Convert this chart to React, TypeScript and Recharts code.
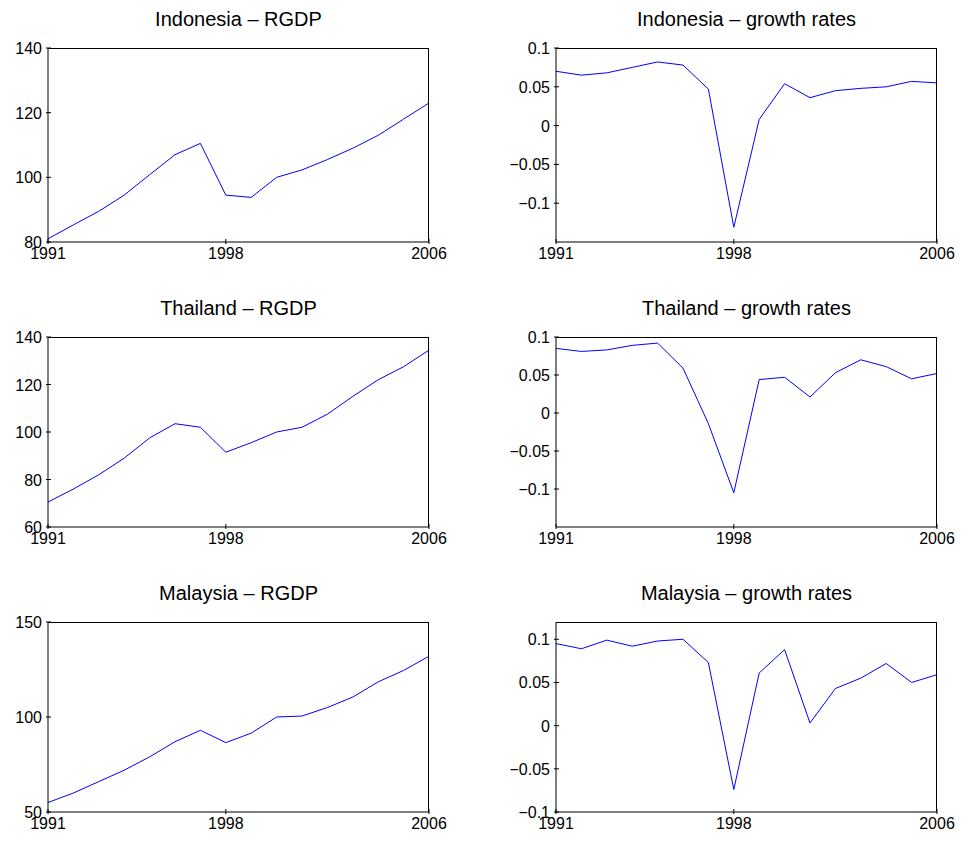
import React from 'react';
import { LineChart, Line, XAxis, YAxis } from 'recharts';

const years = [1991, 1992, 1993, 1994, 1995, 1996, 1997, 1998, 1999, 2000, 2001, 2002, 2003, 2004, 2005, 2006];
const yearTicks = [1991, 1998, 2006];

const indoRgdp = [81, 85.3, 89.5, 94.5, 100.8, 107, 110.5, 94.5, 93.8, 100, 102.3, 105.5, 109, 113, 118, 123];
const indoGrowth = [0.07, 0.065, 0.068, 0.075, 0.082, 0.078, 0.047, -0.131, 0.008, 0.054, 0.036, 0.045, 0.048, 0.05, 0.057, 0.055];
const thaiRgdp = [70.5, 76, 82, 89, 97.5, 103.5, 102, 91.5, 95.5, 100, 102, 107.5, 115, 122, 127.5, 134.5];
const thaiGrowth = [0.085, 0.081, 0.083, 0.089, 0.092, 0.059, -0.014, -0.105, 0.044, 0.047, 0.021, 0.053, 0.07, 0.061, 0.045, 0.052];
const malayRgdp = [55, 60, 66, 72, 79, 87, 93, 86.5, 91.5, 100, 100.5, 105, 110.5, 118.5, 124.5, 132];
const malayGrowth = [0.095, 0.089, 0.099, 0.092, 0.098, 0.1, 0.073, -0.074, 0.061, 0.088, 0.003, 0.043, 0.055, 0.072, 0.05, 0.059];

const font = 'Arial, "Liberation Sans", sans-serif';

const XTick = (props: any) => {
  const { x, y, payload } = props;
  return (
    <g>
      <line x1={x} y1={y} x2={x} y2={y - 5} stroke="#000" />
      <text x={x} y={y + 15} textAnchor="middle" fontSize={16} fontFamily={font} fill="#000">{payload.value}</text>
    </g>
  );
};

const YTick = (props: any) => {
  const { x, y, payload } = props;
  const label = String(payload.value).replace('-', '\u2212');
  return (
    <g>
      <line x1={x} y1={y} x2={x + 5} y2={y} stroke="#000" />
      <text x={x - 4} y={y + 6} textAnchor="end" fontSize={16} fontFamily={font} fill="#000">{label}</text>
    </g>
  );
};

interface PanelProps {
  title: string;
  values: number[];
  domain: [number, number];
  ticks: number[];
  left: number;
  top: number;
  plotHeight: number;
  axisWidth: number;
}

const Panel: React.FC<PanelProps> = ({ title, values, domain, ticks, left, top, plotHeight, axisWidth }) => {
  const data = years.map((year, i) => ({ year, v: values[i] }));
  const plotWidth = 381;
  const width = axisWidth + plotWidth + 21;
  const height = 48 + plotHeight + 38;
  return (
    <div style={{ position: 'absolute', left, top, width, height }}>
      <div style={{ position: 'absolute', left: axisWidth, width: plotWidth, top: 8, textAlign: 'center', fontFamily: font, fontSize: 20 }}>
        {title}
      </div>
      <LineChart width={width} height={height} data={data} margin={{ top: 48, right: 21, bottom: 8, left: 0 }}>
        <XAxis dataKey="year" type="number" domain={[1991, 2006]} ticks={yearTicks} tick={<XTick />} tickLine={false} tickSize={0} height={30} axisLine={{ stroke: '#000' }} />
        <YAxis type="number" domain={domain} ticks={ticks} tick={<YTick />} tickLine={false} tickSize={0} width={axisWidth} axisLine={{ stroke: '#000' }} allowDataOverflow />
        <Line dataKey="v" stroke="#0000ff" strokeWidth={1} dot={false} isAnimationActive={false} />
      </LineChart>
      <div style={{ position: 'absolute', left: axisWidth, top: 48, width: plotWidth, height: plotHeight, borderTop: '1px solid #000', borderRight: '1px solid #000', boxSizing: 'border-box', pointerEvents: 'none' }} />
    </div>
  );
};

const growthTicks = [-0.1, -0.05, 0, 0.05, 0.1];

export default function App() {
  return (
    <div style={{ position: 'absolute', left: 0, top: 0, width: 961, height: 848, background: '#fff' }}>
      <Panel title="Indonesia – RGDP" values={indoRgdp} domain={[80, 140]} ticks={[80, 100, 120, 140]} left={0} top={0} plotHeight={194} axisWidth={48} />
      <Panel title="Indonesia – growth rates" values={indoGrowth} domain={[-0.15, 0.1]} ticks={growthTicks} left={500} top={0} plotHeight={194} axisWidth={56} />
      <Panel title="Thailand – RGDP" values={thaiRgdp} domain={[60, 140]} ticks={[60, 80, 100, 120, 140]} left={0} top={289} plotHeight={190} axisWidth={48} />
      <Panel title="Thailand – growth rates" values={thaiGrowth} domain={[-0.15, 0.1]} ticks={growthTicks} left={500} top={289} plotHeight={190} axisWidth={56} />
      <Panel title="Malaysia – RGDP" values={malayRgdp} domain={[50, 150]} ticks={[50, 100, 150]} left={0} top={574} plotHeight={190} axisWidth={48} />
      <Panel title="Malaysia – growth rates" values={malayGrowth} domain={[-0.1, 0.12]} ticks={growthTicks} left={500} top={574} plotHeight={190} axisWidth={56} />
    </div>
  );
}
